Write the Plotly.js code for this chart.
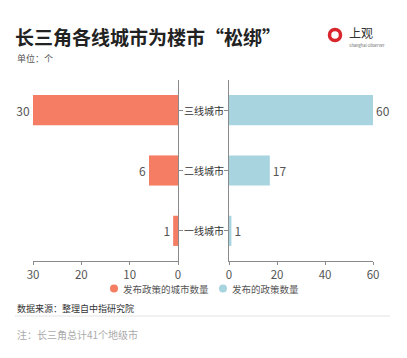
<!DOCTYPE html>
<html>
<head>
<meta charset="utf-8">
<script src="https://cdn.plot.ly/plotly-3.0.1.min.js"></script>
<style>html,body{margin:0;padding:0;background:#fff;}#chart{width:407px;height:358px;}</style>
</head>
<body>
<div id="chart"></div>
<script>
const categories = ['一线城市', '二线城市', '三线城市'];
const cityCounts = [1, 6, 30];
const policyCounts = [1, 17, 60];
const seriesNames = ['发布政策的城市数量', '发布的政策数量'];
const leftTicks = [0, 10, 20, 30];
const rightTicks = [0, 20, 40, 60];

const FONT = '"Noto Sans CJK SC", "Noto Sans", sans-serif';
const ORANGE = '#F47D64';
const BLUE = '#A8D4E0';
const COLORS = [ORANGE, BLUE];

const traces = [
  {type: 'bar', orientation: 'h', x: cityCounts, y: categories, xaxis: 'x', yaxis: 'y', name: seriesNames[0],
   marker: {color: ORANGE}, width: 0.5, text: cityCounts.map(String), textposition: 'outside',
   textfont: {size: 12, color: '#555'}, cliponaxis: false, showlegend: false, hoverinfo: 'none'},
  {type: 'bar', orientation: 'h', x: policyCounts, y: categories, xaxis: 'x2', yaxis: 'y2', name: seriesNames[1],
   marker: {color: BLUE}, width: 0.5, text: policyCounts.map(String), textposition: 'outside',
   textfont: {size: 12, color: '#555'}, cliponaxis: false, showlegend: false, hoverinfo: 'none'}
];

const W = 407, H = 358, L = 33, R = 34, T = 80, B = 97;
const pw = W - L - R, ph = H - T - B;
const px = p => (p - L) / pw;
const py = q => (H - B - q) / ph;

const axisCommon = {showline: true, linecolor: '#8a8a8a', linewidth: 1, ticks: 'outside', ticklen: 3,
  tickcolor: '#8a8a8a', showgrid: false, zeroline: false, fixedrange: true,
  tickfont: {size: 11.5, color: '#555', family: FONT}};

const annotations = categories.map(c => ({xref: 'paper', yref: 'y', x: px(203.5), y: c, text: c,
  showarrow: false, xanchor: 'center', yanchor: 'middle', font: {size: 10, color: '#333', family: FONT}}));

// custom legend (circle markers like the reference)
const legendX = [114, 223];
const shapes = [];
seriesNames.forEach((n, i) => {
  annotations.push({xref: 'paper', yref: 'paper', x: px(legendX[i] + 7), y: py(288.5), text: n, showarrow: false,
    xanchor: 'left', yanchor: 'middle', font: {size: 9.5, color: '#555', family: FONT}});
  shapes.push({type: 'circle', xref: 'paper', yref: 'paper', x0: px(legendX[i] - 4), x1: px(legendX[i] + 4),
    y0: py(292.5), y1: py(284.5), fillcolor: COLORS[i], line: {width: 0}});
});

annotations.push(
  {xref: 'paper', yref: 'paper', x: px(15), y: py(58), text: '单位：个', showarrow: false,
   xanchor: 'left', yanchor: 'middle', font: {size: 9, color: '#555', family: FONT}},
  {xref: 'paper', yref: 'paper', x: px(15), y: py(308), text: '数据来源：整理自中指研究院', showarrow: false,
   xanchor: 'left', yanchor: 'middle', font: {size: 9, color: '#333', family: FONT}},
  {xref: 'paper', yref: 'paper', x: px(15), y: py(334), text: '注：长三角总计41个地级市', showarrow: false,
   xanchor: 'left', yanchor: 'middle', font: {size: 10, color: '#aaa', family: FONT}},
  {xref: 'paper', yref: 'paper', x: px(347), y: py(32), text: '上观', showarrow: false,
   xanchor: 'left', yanchor: 'middle', font: {size: 12, color: '#333', family: FONT}},
  {xref: 'paper', yref: 'paper', x: px(347), y: py(44.5), text: 'Shanghai Observer', showarrow: false,
   xanchor: 'left', yanchor: 'middle', font: {size: 4, color: '#666', family: FONT}}
);

shapes.push(
  {type: 'line', xref: 'paper', yref: 'paper', x0: px(15), x1: px(390), y0: py(316), y1: py(316),
   line: {color: '#e3e3e3', width: 1}},
  {type: 'circle', xref: 'paper', yref: 'paper', x0: px(329.5), x1: px(340.5), y0: py(40.5), y1: py(29.5),
   line: {color: '#D8262C', width: 3.5}}
);

const layout = {
  width: W, height: H,
  margin: {l: L, r: R, t: T, b: B, pad: 0},
  paper_bgcolor: '#fff', plot_bgcolor: '#fff',
  font: {family: FONT, color: '#333'},
  showlegend: false,
  title: {text: '<b>长三角各线城市为楼市“松绑”</b>', x: 15 / W, xanchor: 'left', xref: 'container',
    y: 1 - 38 / H, yanchor: 'middle', yref: 'container', font: {size: 19, color: '#222', family: FONT}},
  xaxis: Object.assign({}, axisCommon, {domain: [0, px(178)], range: [30, 0], tickvals: leftTicks, anchor: 'y'}),
  xaxis2: Object.assign({}, axisCommon, {domain: [px(229), 1], range: [0, 60], tickvals: rightTicks, anchor: 'y2'}),
  yaxis: Object.assign({}, axisCommon, {anchor: 'x', side: 'right', showticklabels: false, ticklen: 4,
    type: 'category', categoryarray: categories, range: [-0.5, 2.5]}),
  yaxis2: Object.assign({}, axisCommon, {anchor: 'x2', side: 'left', showticklabels: false, ticklen: 4,
    type: 'category', categoryarray: categories, range: [-0.5, 2.5]}),
  annotations: annotations,
  shapes: shapes
};

Plotly.newPlot('chart', traces, layout, {staticPlot: true, displayModeBar: false});
</script>
</body>
</html>
